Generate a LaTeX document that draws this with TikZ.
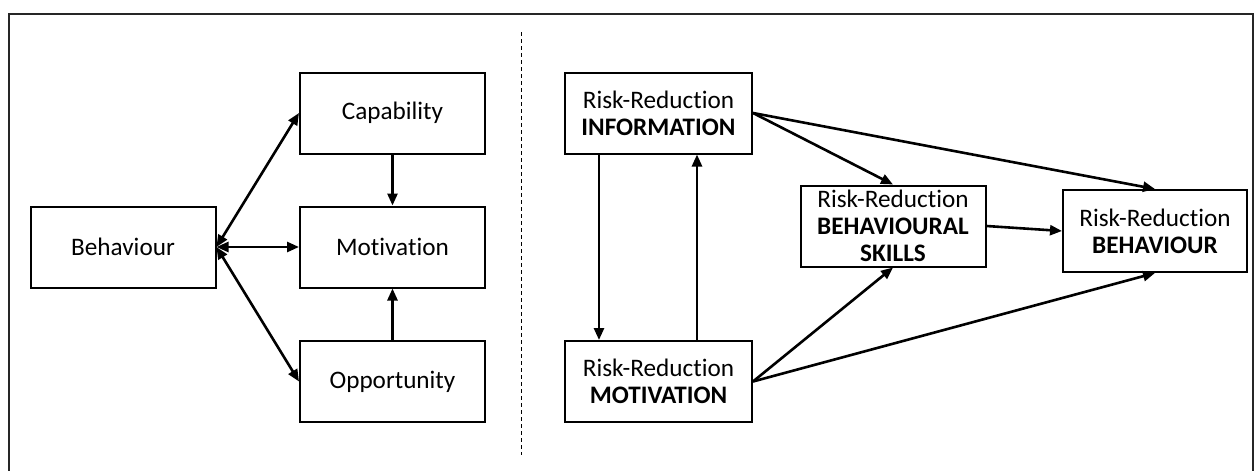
\documentclass[tikz,border=0pt]{standalone}
\usepackage{fontspec}
\setmainfont{Carlito}[Ligatures={NoCommon,NoRare,NoDiscretionary}]
\usetikzlibrary{arrows.meta}
\begin{document}
\begin{tikzpicture}[x=0.5pt,y=-0.5pt,
  box/.style={draw,line width=1pt,inner sep=0pt,align=center,
    minimum width=92.5pt,minimum height=40.5pt,
    font=\fontsize{12.6}{13.5}\selectfont},
  arr/.style={line width=1.3pt,-{Triangle[length=6pt,width=5pt]}},
  darr/.style={line width=1.3pt,{Triangle[length=6pt,width=5pt]}-{Triangle[length=6pt,width=5pt]}},
  frame/.style={line width=0.8pt,draw=black!85},
  sep/.style={line width=0.5pt,dash pattern=on 2pt off 1.5pt}]
\useasboundingbox (0,0) rectangle (1255,471);
\draw[frame] (9,480) -- (9,14) -- (1253,14) -- (1253,480);
\coordinate (s1) at (521,32);
\coordinate (s2) at (521,455);
\draw[sep] (s1) -- (s2);
% left diagram
\node[box] (beh) at (123,247) {Behaviour};
\node[box] (cap) at (392.5,113) {Capability};
\node[box] (mot) at (392.5,247) {Motivation};
\node[box] (opp) at (392.5,381.5) {Opportunity};
\draw[darr] (beh.east) -- (cap.west);
\draw[darr] (beh.east) -- (mot.west);
\draw[darr] (beh.east) -- (opp.west);
\draw[arr] (cap.south) -- (mot.north);
\draw[arr] (opp.north) -- (mot.south);
% right diagram
\node[box,minimum width=93.5pt] (info) at (658.5,113) {Risk-Reduction\\\textbf{INFORMATION}};
\node[box,minimum width=93.5pt] (mot2) at (658.5,381.5) {Risk-Reduction\\\textbf{MOTIVATION}};
\node[box] (skl) at (893,226) {Risk-Reduction\\\textbf{BEHAVIOURAL}\\\textbf{SKILLS}};
\node[box,minimum width=92pt,minimum height=41pt] (beh2) at (1155,231) {Risk-Reduction\\\textbf{BEHAVIOUR}};
\draw[arr] ([xshift=-29.75pt]info.south) -- ([xshift=-29.75pt]mot2.north);
\draw[arr] ([xshift=19.25pt]mot2.north) -- ([xshift=19.25pt]info.south);
\draw[arr] (info.east) -- (skl.north);
\draw[arr] (info.east) -- (beh2.north);
\draw[arr] (mot2.east) -- (skl.south);
\draw[arr] (mot2.east) -- (beh2.south);
\draw[arr] (skl.east) -- (beh2.west);
\end{tikzpicture}
\end{document}
